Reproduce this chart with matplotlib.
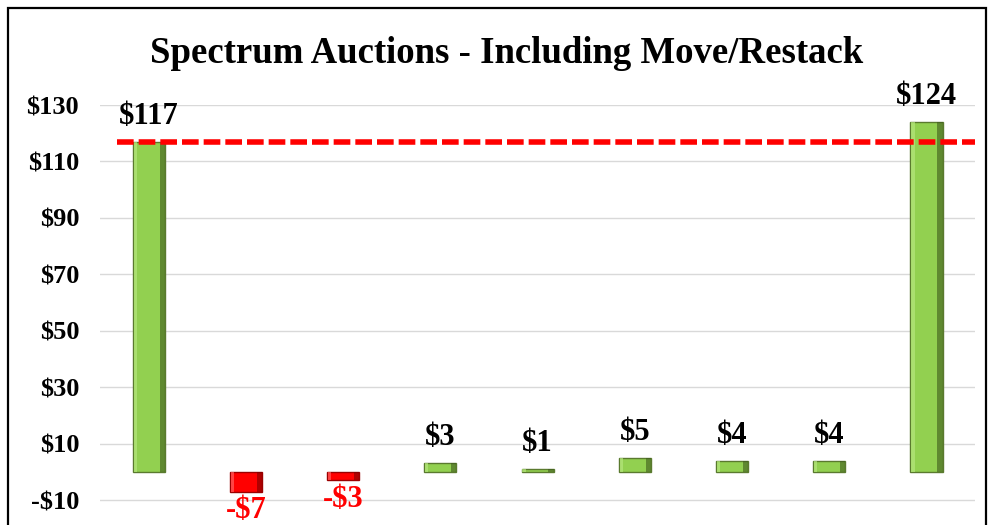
import matplotlib
matplotlib.use("Agg")
from matplotlib import pyplot as plt
from matplotlib.patches import Rectangle
import numpy as np

# data
categories = ["A", "B", "C", "D", "E", "F", "G", "H", "I"]
values = [117, -7, -3, 3, 1, 5, 4, 4, 124]
labels = ["$117", "-$7", "-$3", "$3", "$1", "$5", "$4", "$4", "$124"]
reference = 117
yticks = [-10, 10, 30, 50, 70, 90, 110, 130]
ytick_labels = ["-$10", "$10", "$30", "$50", "$70", "$90", "$110", "$130"]

plt.rcParams['font.family'] = ['Liberation Serif', 'DejaVu Serif']
plt.rcParams['font.weight'] = 'bold'

fig = plt.figure(figsize=(9.92, 5.25), dpi=100)
ax = fig.add_axes([0.1008, 0.0, 0.8822, 0.8])

x = np.arange(len(values))
fills = ['#92D050' if v >= 0 else '#FF0000' for v in values]
edges = ['#5A7A2E' if v >= 0 else '#9B0000' for v in values]
bars = ax.bar(x, values, width=0.33, color=fills, edgecolor=edges, linewidth=1.0, zorder=3)

# bevel-ish shading: dark strip on right edge, light strip on left
for b, v in zip(bars, values):
    x0, w = b.get_x(), b.get_width()
    ax.bar(x0 + w * 0.84, v, width=w * 0.16, align='edge',
           color='#3E5A1C' if v >= 0 else '#7A0000', alpha=0.6, zorder=4, linewidth=0)
    ax.bar(x0 + w * 0.03, v, width=w * 0.1, align='edge',
           color='#B5E67D' if v >= 0 else '#FF6060', alpha=0.7, zorder=4, linewidth=0)

ax.axhline(reference, xmin=0.02, xmax=1.0, color='#FF0000', lw=4,
           dashes=(3, 0.9), zorder=5)

for xi, v, lab in zip(x, values, labels):
    if v >= 0:
        ax.annotate(lab, (xi, v), xytext=(0, 8), textcoords='offset points',
                    ha='center', va='bottom', fontsize=22, fontweight='bold', color='black')
    else:
        ax.annotate(lab, (xi, v), xytext=(0, -3), textcoords='offset points',
                    ha='center', va='top', fontsize=22, fontweight='bold', color='#FF0000')

ax.set_xlim(-0.5, len(values) - 0.5)
ax.set_ylim(-18.8, 130)
ax.set_yticks(yticks)
ax.set_yticklabels(ytick_labels, fontsize=19, fontweight='bold')
ax.set_xticks([])
ax.tick_params(axis='y', length=0, pad=15)
ax.grid(axis='y', color='#D9D9D9', lw=1, zorder=0)
for s in ax.spines.values():
    s.set_visible(False)

fig.text(0.511, 0.898, "Spectrum Auctions - Including Move/Restack", ha='center', va='center',
         fontsize=26.5, fontweight='bold')

fig.patches.append(Rectangle((0.008, -0.1), 0.986, 1.085, transform=fig.transFigure,
                             fill=False, edgecolor='black', lw=1.6))

fig.savefig("out.png", dpi=100)
